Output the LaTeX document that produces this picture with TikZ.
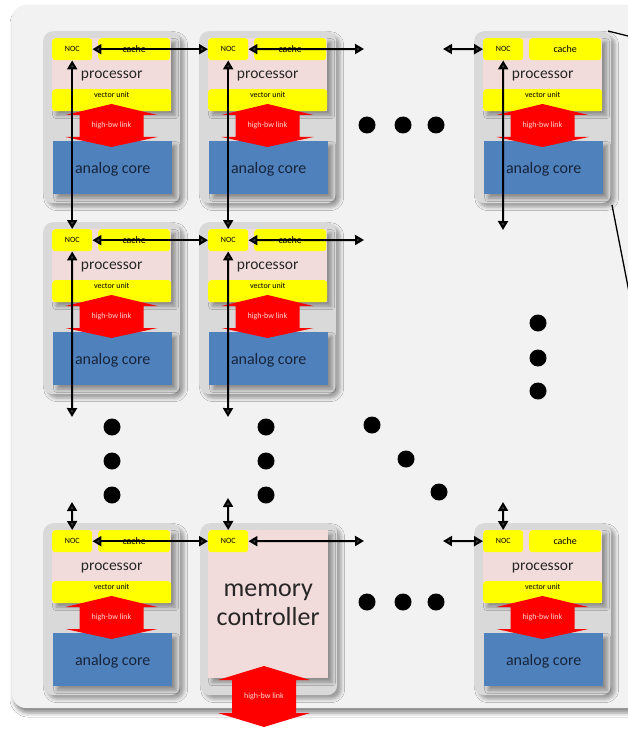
\documentclass[tikz,border=0pt]{standalone}
\usepackage{fontspec}
\setmainfont{Carlito}
\usepackage{tikz}
\usetikzlibrary{arrows.meta, shadows.blur, calc}
\definecolor{panelgray}{HTML}{F2F2F2}
\definecolor{tilegray}{HTML}{D9D9D9}
\definecolor{procpink}{HTML}{F2DCDB}
\definecolor{unityellow}{HTML}{FFFF00}
\definecolor{linkred}{HTML}{FF0000}
\definecolor{coreblue}{HTML}{4F81BD}
\definecolor{coretext}{HTML}{17243A}
\definecolor{proctext}{HTML}{262626}
\definecolor{linkpink}{HTML}{FFD5D5}
\tikzstyle{softshadow} = [blur shadow={shadow xshift=4pt, shadow yshift=-4pt, shadow blur radius=3.5pt, shadow opacity=35}]
\tikzstyle{tilebox} = [rectangle, rounded corners=10pt, minimum width=137pt, minimum height=172pt,
  anchor=north west, inner sep=0pt, fill=tilegray, softshadow]
\tikzstyle{procbox} = [rectangle, minimum width=119pt, minimum height=73pt, anchor=north west, inner sep=0pt,
  text depth=0pt, fill=procpink, text=proctext, font=\fontsize{15.5}{18}\selectfont, softshadow]
\tikzstyle{nocbox} = [rectangle, rounded corners=3pt, minimum width=40pt, minimum height=22pt, anchor=north west,
  inner sep=0pt, fill=unityellow, text=black, font=\fontsize{8}{9}\selectfont]
\tikzstyle{vecbox} = [rectangle, rounded corners=3pt, minimum width=119pt, anchor=north west, inner sep=0pt,
  text height=8pt, text depth=14pt, fill=unityellow, text=black, font=\fontsize{8}{9}\selectfont]
\tikzstyle{corebox} = [rectangle, minimum width=119pt, minimum height=53pt, anchor=north west, inner sep=0pt,
  text depth=0pt, fill=coreblue, text=coretext, font=\fontsize{16}{18}\selectfont, softshadow]
\tikzstyle{linktext} = [inner sep=0pt, text=linkpink, font=\fontsize{8}{9}\selectfont]
\tikzstyle{nocarrow} = [line width=2pt, {Triangle[length=9pt, width=10pt]}-{Triangle[length=9pt, width=10pt]}]
\tikzstyle{bigdot} = [circle, fill=black, minimum size=17pt, inner sep=0pt]
\newcommand{\bwlink}[6]{%
  \fill[linkred] (#2,#3) -- ({#2+46},#4) -- ({#2+32},#4) -- ({#2+32},#5) -- ({#2+46},#5) -- (#2,#6)
    -- ({#2-46},#5) -- ({#2-32},#5) -- ({#2-32},#4) -- ({#2-46},#4) -- cycle;
  \node (#1) [linktext] at (#2,{(#3+#6)/2}) {high-bw link};}
\newcommand{\proctile}[3]{%
  \begin{scope}[shift={(#2,#3)}]
    \node (#1) [tilebox] at (0,0) {};
    \node (#1-proc) [procbox] at (9,7) {processor};
    \node (#1-noc) [nocbox] at (9,7) {NOC};
    \node (#1-cache) [nocbox, minimum width=72pt, font=\fontsize{10}{12}\selectfont] at (55,7) {cache};
    \node (#1-vec) [vecbox] at (9,58) {vector unit};
    \node (#1-core) [corebox] at (10,110) {analog core};
    \bwlink{#1-link}{68.5}{73}{84}{106}{116}
  \end{scope}}
\begin{document}
\begin{tikzpicture}[x=1pt, y=-1pt]
  \useasboundingbox (0,0) rectangle (628,730);
  \clip (0,0) rectangle (628,730);
  \fill[white] (0,0) rectangle (628,730);
  \fill[panelgray, rounded corners=14pt, blur shadow={shadow xshift=2pt, shadow yshift=-5pt, shadow blur radius=4pt, shadow opacity=45}]
    (12,5) rectangle (680,708);

  \proctile{r1c1}{43}{31}
  \proctile{r1c2}{199}{31}
  \proctile{r1c3}{474}{31}
  \proctile{r2c1}{43}{222}
  \proctile{r2c2}{199}{222}
  \proctile{r3c1}{43}{523}
  \proctile{r3c3}{474}{523}

  \node (mc) [tilebox] at (200,523) {};
  \node (mc-proc) [procbox, minimum width=120pt, minimum height=148pt, align=center,
    font=\fontsize{26}{29}\selectfont] at (208,530) {memory\\controller};
  \node (mc-noc) [nocbox] at (208,530) {NOC};
  \bwlink{mc-link}{264}{666}{680}{713}{727}

  \coordinate (e1) at (364,49);
  \coordinate (w1) at (443,49);
  \coordinate (e2) at (364,240);
  \coordinate (e3) at (364,541);
  \coordinate (w3) at (443,541);
  \coordinate (s1) at (72,417);
  \coordinate (s2) at (228,417);
  \coordinate (s3) at (503,230);
  \coordinate (n1) at (72,502);
  \coordinate (n2) at (228,498);
  \coordinate (n3) at (503,502);
  \coordinate (z1) at (608,31);
  \coordinate (z2) at (652,42);
  \coordinate (z3) at (612,205);
  \coordinate (z4) at (630,297);

  \draw[nocarrow] (r1c1-noc.east) -- (r1c2-noc.west);
  \draw[nocarrow] (r1c2-noc.east) -- (e1);
  \draw[nocarrow] (w1) -- (r1c3-noc.west);
  \draw[nocarrow] (r2c1-noc.east) -- (r2c2-noc.west);
  \draw[nocarrow] (r2c2-noc.east) -- (e2);
  \draw[nocarrow] (r3c1-noc.east) -- (mc-noc.west);
  \draw[nocarrow] (mc-noc.east) -- (e3);
  \draw[nocarrow] (w3) -- (r3c3-noc.west);
  \draw[nocarrow] (r1c1-noc.south) -- (r2c1-noc.north);
  \draw[nocarrow] (r1c2-noc.south) -- (r2c2-noc.north);
  \draw[nocarrow] (r2c1-noc.south) -- (s1);
  \draw[nocarrow] (r2c2-noc.south) -- (s2);
  \draw[nocarrow] (r1c3-noc.south) -- (s3);
  \draw[nocarrow] (n1) -- (r3c1-noc.north);
  \draw[nocarrow] (n2) -- (mc-noc.north);
  \draw[nocarrow] (n3) -- (r3c3-noc.north);
  \draw[line width=1.3pt] (z1) -- (z2);
  \draw[line width=1.3pt] (z3) -- (z4);

  \node (h1) [bigdot] at (367,125) {}; \node (h2) [bigdot] at (403,125) {}; \node (h3) [bigdot] at (436,125) {};
  \node (h4) [bigdot] at (367,602) {}; \node (h5) [bigdot] at (403,602) {}; \node (h6) [bigdot] at (436,602) {};
  \node (v1) [bigdot] at (112,427) {}; \node (v2) [bigdot] at (112,461) {}; \node (v3) [bigdot] at (112,495) {};
  \node (v4) [bigdot] at (266,427) {}; \node (v5) [bigdot] at (266,461) {}; \node (v6) [bigdot] at (266,495) {};
  \node (v7) [bigdot] at (538,323) {}; \node (v8) [bigdot] at (538,358) {}; \node (v9) [bigdot] at (538,391) {};
  \node (g1) [bigdot] at (372,425) {}; \node (g2) [bigdot] at (406,459) {}; \node (g3) [bigdot] at (439,492) {};
\end{tikzpicture}
\end{document}
